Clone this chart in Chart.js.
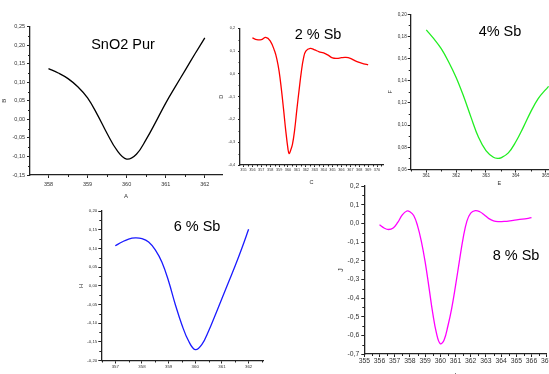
<!DOCTYPE html>
<html>
<head>
<meta charset="utf-8">
<script src="https://cdn.jsdelivr.net/npm/chart.js@4.4.0/dist/chart.umd.min.js"></script>
<style>
  html, body { margin: 0; padding: 0; background: #fff; }
  #wrap { position: relative; width: 549px; height: 374px; overflow: hidden; background: #fff; }
  #wrap canvas { position: absolute; left: 0; top: 0; }
  .lbl { position: absolute; font-family: 'Liberation Sans', Arial, sans-serif; font-size: 14.5px;
         line-height: 1; color: #000; white-space: nowrap; transform: translate(-50%, -50%); }
</style>
</head>
<body>
<div id="wrap">
  <canvas id="p1" width="600" height="390"></canvas>
  <canvas id="p2" width="600" height="390"></canvas>
  <canvas id="p3" width="600" height="390"></canvas>
  <canvas id="p4" width="600" height="390"></canvas>
  <canvas id="p5" width="600" height="390"></canvas>
  <div class="lbl" style="left:123px;top:44px">SnO2 Pur</div>
  <div class="lbl" style="left:318px;top:34px">2 % Sb</div>
  <div class="lbl" style="left:500px;top:31px">4% Sb</div>
  <div class="lbl" style="left:197px;top:226px">6 % Sb</div>
  <div class="lbl" style="left:516px;top:255px">8 % Sb</div>
</div>
<script>
// ---- SnO2 Pur ----
const pureX = [358.0, 358.25, 358.5, 358.75, 359.0, 359.25, 359.5, 359.75, 360.0, 360.25, 360.5, 360.75, 361.0, 361.25, 361.5, 361.75, 362.0];
const pureY = [0.137, 0.125, 0.110, 0.088, 0.058, 0.013, -0.038, -0.083, -0.107, -0.094, -0.054, -0.006, 0.044, 0.089, 0.133, 0.177, 0.220];
const pureXTicks = [358, 359, 360, 361, 362];
const pureYTicks = [-0.15, -0.10, -0.05, 0.00, 0.05, 0.10, 0.15, 0.20, 0.25];

// ---- 2 % Sb ----
const sb2X = [356.0, 356.5, 357.0, 357.5, 358.0, 358.5, 358.75, 359.0, 359.25, 359.5, 359.75, 360.0, 360.12, 360.3, 360.5, 360.75, 361.0, 361.25, 361.5, 361.75, 362.0, 362.5, 363.0, 363.5, 364.0, 364.5, 365.0, 365.5, 366.0, 366.5, 367.0, 367.5, 368.0, 368.5, 369.0];
const sb2Y = [0.158, 0.150, 0.150, 0.160, 0.145, 0.100, 0.065, 0.012, -0.065, -0.155, -0.250, -0.330, -0.350, -0.335, -0.310, -0.245, -0.155, -0.070, 0.010, 0.070, 0.100, 0.112, 0.105, 0.097, 0.092, 0.082, 0.070, 0.068, 0.071, 0.072, 0.068, 0.058, 0.050, 0.044, 0.040];
const sb2XTicks = [355, 356, 357, 358, 359, 360, 361, 362, 363, 364, 365, 366, 367, 368, 369, 370];
const sb2YTicks = [-0.4, -0.3, -0.2, -0.1, 0.0, 0.1, 0.2];

// ---- 4 % Sb ----
const sb4X = [361.0, 361.25, 361.5, 361.75, 362.0, 362.25, 362.5, 362.75, 363.0, 363.25, 363.4, 363.5, 363.75, 364.0, 364.25, 364.5, 364.75, 365.0, 365.1];
const sb4Y = [0.186, 0.178, 0.169, 0.157, 0.143, 0.126, 0.107, 0.089, 0.077, 0.071, 0.070, 0.0705, 0.075, 0.085, 0.098, 0.112, 0.124, 0.132, 0.135];
const sb4XTicks = [361, 362, 363, 364, 365, 366];
const sb4YTicks = [0.06, 0.08, 0.10, 0.12, 0.14, 0.16, 0.18, 0.20];

// ---- 6 % Sb ----
const sb6X = [357.0, 357.25, 357.5, 357.75, 358.0, 358.25, 358.5, 358.75, 359.0, 359.25, 359.5, 359.75, 360.0, 360.25, 360.5, 360.75, 361.0, 361.25, 361.5, 361.75, 362.0];
const sb6Y = [0.107, 0.117, 0.125, 0.128, 0.126, 0.117, 0.096, 0.063, 0.012, -0.050, -0.105, -0.148, -0.171, -0.157, -0.121, -0.078, -0.034, 0.010, 0.054, 0.101, 0.151];
const sb6XTicks = [357, 358, 359, 360, 361, 362];
const sb6YTicks = [-0.20, -0.15, -0.10, -0.05, 0.00, 0.05, 0.10, 0.15, 0.20];

// ---- 8 % Sb ----
const sb8X = [356.0, 356.3, 356.6, 356.9, 357.2, 357.5, 357.8, 358.0, 358.25, 358.5, 358.75, 359.0, 359.25, 359.5, 359.75, 360.0, 360.25, 360.5, 360.75, 361.0, 361.25, 361.5, 361.75, 362.0, 362.3, 362.6, 362.9, 363.2, 363.5, 363.8, 364.2, 364.8, 365.4, 366.0];
const sb8Y = [-0.008, -0.025, -0.033, -0.025, 0.005, 0.045, 0.066, 0.062, 0.042, -0.012, -0.095, -0.205, -0.340, -0.480, -0.590, -0.645, -0.625, -0.550, -0.455, -0.335, -0.205, -0.080, 0.012, 0.055, 0.068, 0.062, 0.045, 0.025, 0.013, 0.009, 0.010, 0.016, 0.022, 0.030];
const sb8XTicks = [355, 356, 357, 358, 359, 360, 361, 362, 363, 364, 365, 366, 367];
const sb8YTicks = [-0.7, -0.6, -0.5, -0.4, -0.3, -0.2, -0.1, 0.0, 0.1, 0.2];

const FONT = "'Liberation Sans', Arial, sans-serif";
const CW = 600, CH = 390;
const AXIS = '#222';
const TEXT = '#333';

// Short unlabeled ticks halfway between the labeled ones, pointing outward.
const minorTicks = {
  id: 'minorTicks',
  afterDraw(chart, args, opts) {
    const ctx = chart.ctx;
    ctx.save();
    ctx.strokeStyle = AXIS;
    ctx.lineWidth = 1;
    ['x', 'y'].forEach(id => {
      const s = chart.scales[id];
      const vals = s.ticks.map(t => t.value);
      if (vals.length < 2) return;
      const step = vals[1] - vals[0];
      for (let k = -1; k < vals.length + 1; k++) {
        const v = vals[0] + (k + 0.5) * step;
        if (v < s.min - 1e-9 || v > s.max + 1e-9) continue;
        const p = Math.round(s.getPixelForValue(v)) + 0.5;
        ctx.beginPath();
        if (id === 'x') { ctx.moveTo(p, s.top); ctx.lineTo(p, s.top + opts.len); }
        else { ctx.moveTo(s.right, p); ctx.lineTo(s.right - opts.len, p); }
        ctx.stroke();
      }
    });
    ctx.restore();
  }
};

const comma = (v, d) => v.toFixed(d).replace('.', ',');

function panel(id, c) {
  const tLh = c.titleSize * 1.2;
  new Chart(document.getElementById(id), {
    type: 'line',
    data: {
      datasets: [{
        data: c.x.map((v, i) => ({ x: v, y: c.y[i] })),
        borderColor: c.color,
        borderWidth: 1.3,
        pointRadius: 0,
        fill: false,
        tension: 0.4
      }]
    },
    options: {
      responsive: false,
      animation: false,
      devicePixelRatio: 1,
      events: [],
      layout: { autoPadding: false, padding: { left: 0, top: c.top, right: CW - c.right, bottom: 0 } },
      plugins: { legend: { display: false }, tooltip: { enabled: false }, minorTicks: { len: c.minorLen } },
      scales: {
        x: {
          type: 'linear', min: c.xMin, max: c.xMax,
          afterFit(s) { s.height = CH - c.bottom; },
          afterBuildTicks(s) { s.ticks = c.xTicks.map(v => ({ value: v })); },
          ticks: {
            autoSkip: false, maxRotation: 0, color: TEXT, padding: c.xPad,
            font: { family: FONT, size: c.tickSize },
            callback: v => String(v)
          },
          grid: { drawOnChartArea: false, drawTicks: true, tickLength: c.tickLen, color: AXIS, lineWidth: 1 },
          border: { display: true, color: AXIS, width: 1.3 },
          title: {
            display: true, text: c.xTitle, color: TEXT,
            font: { family: FONT, size: c.titleSize },
            padding: { top: 0, bottom: CH - c.xTitleY - tLh / 2 }
          }
        },
        y: {
          type: 'linear', min: c.yMin, max: c.yMax,
          afterFit(s) { s.width = c.left; },
          afterBuildTicks(s) { s.ticks = c.yTicks.map(v => ({ value: v })); },
          ticks: {
            autoSkip: false, color: TEXT, padding: c.yPad,
            font: { family: FONT, size: c.tickSize },
            callback: v => comma(v, c.dec)
          },
          grid: { drawOnChartArea: false, drawTicks: true, tickLength: c.tickLen, color: AXIS, lineWidth: 1 },
          border: { display: true, color: AXIS, width: 1.3 },
          title: {
            display: true, text: c.yTitle, color: TEXT,
            font: { family: FONT, size: c.titleSize },
            padding: { top: c.yTitleX - tLh / 2, bottom: 0 }
          }
        }
      }
    },
    plugins: [minorTicks]
  });
}

panel('p1', {
  x: pureX, y: pureY, color: '#000000', xTicks: pureXTicks, yTicks: pureYTicks, dec: 2,
  left: 30, right: 222, top: 26.7, bottom: 175,
  xMin: 357.527, xMax: 362.44, yMin: -0.15, yMax: 0.25,
  tickSize: 5.5, tickLen: 3, minorLen: 2, xPad: 3, yPad: 2,
  titleSize: 6, xTitle: 'A', xTitleY: 196, yTitle: 'B', yTitleX: 4
});

panel('p2', {
  x: sb2X, y: sb2Y, color: '#ff0000', xTicks: sb2XTicks, yTicks: sb2YTicks, dec: 1,
  left: 240, right: 383, top: 28.3, bottom: 165,
  xMin: 354.61, xMax: 370.67, yMin: -0.4, yMax: 0.2,
  tickSize: 3.8, tickLen: 2, minorLen: 1.5, xPad: 0.8, yPad: 3,
  titleSize: 5.5, xTitle: 'C', xTitleY: 182, yTitle: 'D', yTitleX: 221
});

panel('p3', {
  x: sb4X, y: sb4Y, color: '#22ee22', xTicks: sb4XTicks, yTicks: sb4YTicks, dec: 2,
  left: 410.7, right: 588, top: 14.3, bottom: 169.5,
  xMin: 360.477, xMax: 366.42, yMin: 0.06, yMax: 0.20,
  tickSize: 4.6, tickLen: 3, minorLen: 2, xPad: 0.5, yPad: 1,
  titleSize: 5.5, xTitle: 'E', xTitleY: 183, yTitle: 'F', yTitleX: 390
});

panel('p4', {
  x: sb6X, y: sb6Y, color: '#1a1aff', xTicks: sb6XTicks, yTicks: sb6YTicks, dec: 2,
  left: 101.3, right: 263, top: 211, bottom: 360.5,
  xMin: 356.475, xMax: 362.54, yMin: -0.20, yMax: 0.20,
  tickSize: 4.4, tickLen: 3, minorLen: 2, xPad: 0.5, yPad: 1,
  titleSize: 6, xTitle: 'G', xTitleY: 376, yTitle: 'H', yTitleX: 81
});

panel('p5', {
  x: sb8X, y: sb8Y, color: '#ff00ff', xTicks: sb8XTicks, yTicks: sb8YTicks, dec: 1,
  left: 364.3, right: 546.7, top: 186, bottom: 354,
  xMin: 355, xMax: 367, yMin: -0.7, yMax: 0.2,
  tickSize: 6.8, tickLen: 3, minorLen: 2, xPad: 0.2, yPad: 2,
  titleSize: 7, xTitle: 'I', xTitleY: 376, yTitle: 'J', yTitleX: 341
});
</script>
</body>
</html>
